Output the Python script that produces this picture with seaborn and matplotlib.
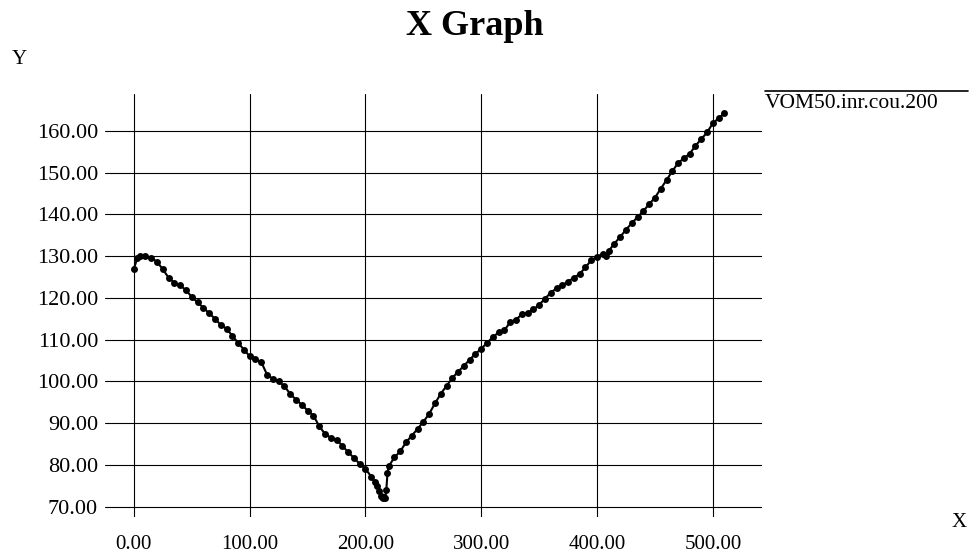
import matplotlib
matplotlib.use("Agg")
import matplotlib.pyplot as plt
from matplotlib.lines import Line2D
from matplotlib.ticker import FormatStrFormatter
import seaborn as sns
import pandas as pd

x_vals = [0, 3, 5, 10, 15, 20, 25, 30, 35, 40, 45, 50, 55, 60, 65, 70, 75, 80, 85, 90,
          95, 100, 105, 110, 115, 120, 125, 130, 135, 140, 145, 150, 155, 160, 165, 170,
          175, 180, 185, 190, 195, 200, 205, 208, 210, 212, 213, 214, 215, 216, 217, 218,
          219, 220, 225, 230, 235, 240, 245, 250, 255, 260, 265, 270, 275, 280, 285, 290,
          295, 300, 305, 310, 315, 320, 325, 330, 335, 340, 345, 350, 355, 360, 365, 370,
          375, 380, 385, 390, 395, 400, 405, 408, 410, 415, 420, 425, 430, 435, 440, 445,
          450, 455, 460, 465, 470, 475, 480, 485, 490, 495, 500, 505, 510]
y_vals = [127.0, 129.5, 130.0, 130.0, 129.6, 128.6, 126.8, 124.8, 123.6, 123.0, 121.8,
          120.2, 118.9, 117.6, 116.3, 115.0, 113.5, 112.6, 110.9, 109.2, 107.6, 106.0,
          105.3, 104.6, 101.6, 100.6, 100.0, 98.8, 97.0, 95.6, 94.4, 93.0, 91.8, 89.3,
          87.4, 86.5, 86.0, 84.6, 83.0, 81.7, 80.2, 79.0, 77.2, 75.9, 75.0, 73.8, 72.6,
          72.2, 72.0, 72.3, 72.0, 74.0, 78.0, 79.6, 81.8, 83.2, 85.4, 87.0, 88.6, 90.3,
          92.2, 94.7, 97.0, 98.9, 100.8, 102.3, 103.7, 105.2, 106.6, 107.8, 109.2, 110.6,
          111.7, 112.2, 114.2, 114.8, 116.0, 116.4, 117.2, 118.3, 119.8, 121.2, 122.3,
          123.0, 123.9, 124.8, 125.7, 127.3, 129.0, 129.8, 130.6, 129.9, 131.2, 133.0,
          134.6, 136.3, 137.9, 139.3, 140.8, 142.4, 144.0, 146.1, 148.2, 150.3, 152.3,
          153.4, 154.5, 156.4, 158.0, 159.6, 161.8, 163.0, 164.2]
series_name = "VOM50.inr.cou.200"
x_ticks = [0, 100, 200, 300, 400, 500]
y_ticks = [70, 80, 90, 100, 110, 120, 130, 140, 150, 160]

df = pd.DataFrame({"x": x_vals, "y": y_vals})

sns.set_style("white")
plt.rcParams["font.family"] = ["Liberation Serif", "DejaVu Serif"]
plt.rcParams["text.color"] = "black"
plt.rcParams["xtick.color"] = "black"
plt.rcParams["ytick.color"] = "black"

fig = plt.figure(figsize=(9.71, 5.56), dpi=100)
ax = fig.add_axes([0.1081, 0.0701, 0.6767, 0.7608])

sns.lineplot(data=df, x="x", y="y", ax=ax, color="black", linewidth=1.5,
             marker="o", markersize=5, markeredgewidth=0, markerfacecolor="black")

ax.set_xlim(-25, 542.5)
ax.set_ylim(67.5, 168.8)
ax.set_xticks(x_ticks)
ax.set_yticks(y_ticks)
ax.xaxis.set_major_formatter(FormatStrFormatter("%.2f"))
ax.yaxis.set_major_formatter(FormatStrFormatter("%.2f"))
ax.grid(True, color="black", linewidth=0.8)
ax.set_axisbelow(True)
for s in ax.spines.values():
    s.set_visible(False)
ax.tick_params(length=0)
ax.tick_params(axis="x", pad=13, labelsize=15)
ax.tick_params(axis="y", pad=5, labelsize=16)
ax.set_xlabel("")
ax.set_ylabel("")

fig.text(0.489, 0.953, "X Graph", ha="center", va="center", fontsize=26, fontweight="bold")
fig.text(0.012, 0.893, "Y", ha="left", va="center", fontsize=15)
fig.text(0.996, 0.061, "X", ha="right", va="center", fontsize=15)

# legend: line above the label
fig.add_artist(Line2D([0.788, 0.997], [0.836, 0.836], color="black", linewidth=1.2,
                      transform=fig.transFigure))
fig.text(0.788, 0.814, series_name, ha="left", va="center", fontsize=15.5)

fig.savefig("out.png", dpi=100)
